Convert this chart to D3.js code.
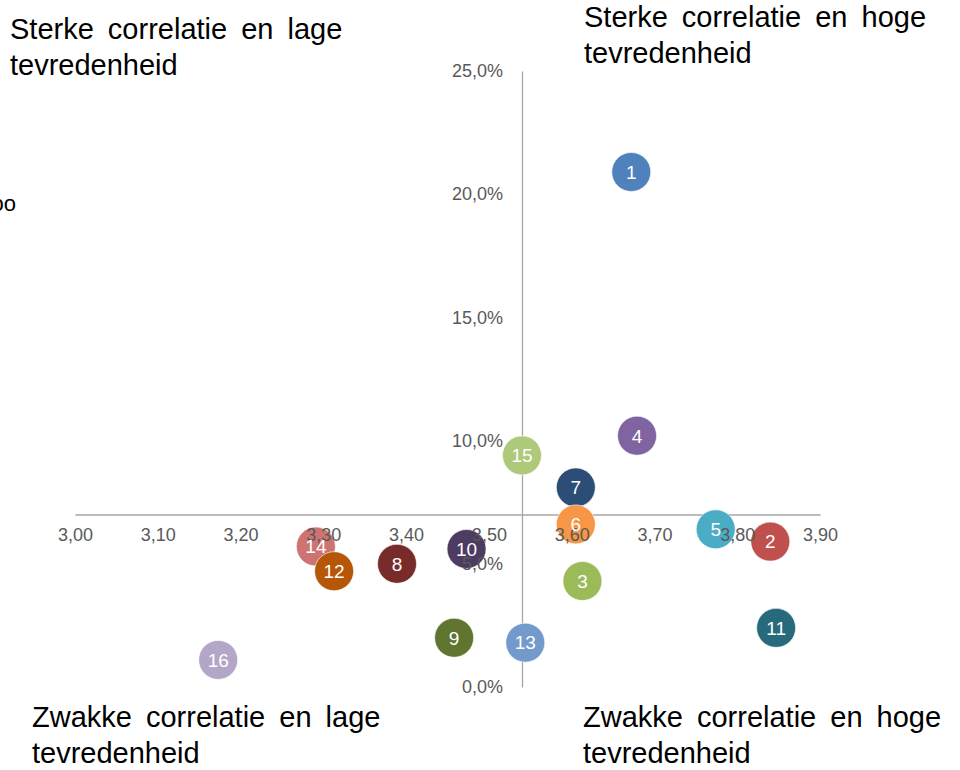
<!DOCTYPE html>
<html>
<head>
<meta charset="utf-8">
<script src="https://cdn.jsdelivr.net/npm/d3@7"></script>
<style>
  body { margin: 0; background: #fff; }
  svg { display: block; font-family: "Liberation Sans", Arial, sans-serif; }
</style>
</head>
<body>
<svg id="chart"></svg>
<script>
// chart data
var ids = [1, 2, 3, 4, 5, 6, 7, 8, 9, 10, 11, 12, 13, 14, 15, 16];
var satisfaction = [3.672, 3.840, 3.613, 3.679, 3.774, 3.605, 3.605, 3.389, 3.458, 3.473, 3.847, 3.313, 3.544, 3.291, 3.540, 3.173];
var correlation = [20.9, 5.9, 4.3, 10.2, 6.4, 6.6, 8.1, 5.0, 2.0, 5.6, 2.4, 4.7, 1.8, 5.7, 9.4, 1.1];
var colors = ['#4F81BD', '#C0504D', '#9BBB59', '#8064A2', '#4BACC6', '#F79646', '#2C4D75', '#772C2A',
	'#5F7530', '#4D3B62', '#276A7C', '#B65708', '#729ACA', '#CD7371', '#AFC97A', '#B3A6C7'];

var xTicks = [3.0, 3.1, 3.2, 3.3, 3.4, 3.5, 3.6, 3.7, 3.8, 3.9];
var yTicks = [0, 5, 10, 15, 20, 25];
var xCross = 3.54, // where the vertical axis sits
	yCross = 7.0;  // where the horizontal axis sits

var quadrants = [
	{lines: ['Sterke correlatie en lage', 'tevredenheid'], x: 10, y: 39},
	{lines: ['Sterke correlatie en hoge', 'tevredenheid'], x: 584, y: 27},
	{lines: ['Zwakke correlatie en lage', 'tevredenheid'], x: 32, y: 727},
	{lines: ['Zwakke correlatie en hoge', 'tevredenheid'], x: 583, y: 727}
];

// svg constants
var width = 960,
	height = 770,
	bubbleRadius = 19.5;

var svg = d3.select('#chart')
	.attr('width', width)
	.attr('height', height);

var nl = d3.formatLocale({decimal: ',', thousands: '.', grouping: [3], currency: ['€', '']});
var fmtX = nl.format('.2f'),
	fmtY = nl.format('.1f');

var x = d3.scaleLinear().domain([3.0, 3.9]).range([75, 820]);
var y = d3.scaleLinear().domain([0, 25]).range([687, 71]);

var xAxis = d3.axisBottom(x).tickValues(xTicks).tickFormat(fmtX).tickSize(0).tickSizeOuter(0).tickPadding(14);
var yAxis = d3.axisLeft(y).tickValues(yTicks).tickFormat(function(d) { return fmtY(d) + '%'; })
	.tickSize(0).tickSizeOuter(0).tickPadding(19);

// axis lines below the bubbles
var lineX = svg.append('g').attr('transform', 'translate(0,' + y(yCross) + ')').call(xAxis);
var lineY = svg.append('g').attr('transform', 'translate(' + x(xCross) + ',0)').call(yAxis);
[lineX, lineY].forEach(function(g) {
	g.selectAll('.tick').remove();
	g.select('.domain').attr('stroke', '#A6A6A6').attr('stroke-width', 1.3);
});

// bubbles
var bubbleData = ids.map(function(id, i) {
	return {id: id, sx: satisfaction[i], cy: correlation[i], color: colors[i]};
}).reverse();

var bubbles = svg.append('g').selectAll('.bubble')
	.data(bubbleData)
	.enter().append('circle')
		.attr('class', 'bubble')
		.attr('cx', function(d) { return x(d.sx); })
		.attr('cy', function(d) { return y(d.cy); })
		.attr('r', bubbleRadius)
		.attr('fill', function(d) { return d.color; })
		.attr('stroke', '#fff')
		.attr('stroke-opacity', 0.6)
		.attr('stroke-width', 1);

// tick labels on top of the bubbles
var labX = svg.append('g').attr('transform', 'translate(0,' + y(yCross) + ')').call(xAxis);
var labY = svg.append('g').attr('transform', 'translate(' + x(xCross) + ',0)').call(yAxis);
[labX, labY].forEach(function(g) {
	g.select('.domain').remove();
	g.selectAll('text')
		.attr('fill', '#595959')
		.style('font-size', '18px')
		.style('font-family', '"Liberation Sans", Arial, sans-serif');
});

// bubble numbers
svg.append('g').selectAll('.num')
	.data(bubbleData)
	.enter().append('text')
		.attr('class', 'num')
		.attr('x', function(d) { return x(d.sx); })
		.attr('y', function(d) { return y(d.cy); })
		.attr('dy', '0.36em')
		.attr('text-anchor', 'middle')
		.attr('fill', '#fff')
		.style('font-size', '19px')
		.text(function(d) { return d.id; });

// quadrant captions
quadrants.forEach(function(q) {
	var t = svg.append('text')
		.attr('x', q.x)
		.attr('y', q.y)
		.attr('fill', '#000')
		.style('font-size', '29px')
		.style('word-spacing', '6px');
	q.lines.forEach(function(line, i) {
		t.append('tspan')
			.attr('x', q.x)
			.attr('dy', i === 0 ? 0 : 36)
			.text(line);
	});
});

// clipped leftover of a title at the left edge
svg.append('text')
	.attr('x', 16)
	.attr('y', 211)
	.attr('text-anchor', 'end')
	.attr('fill', '#000')
	.style('font-size', '22px')
	.text('oo');
</script>
</body>
</html>
